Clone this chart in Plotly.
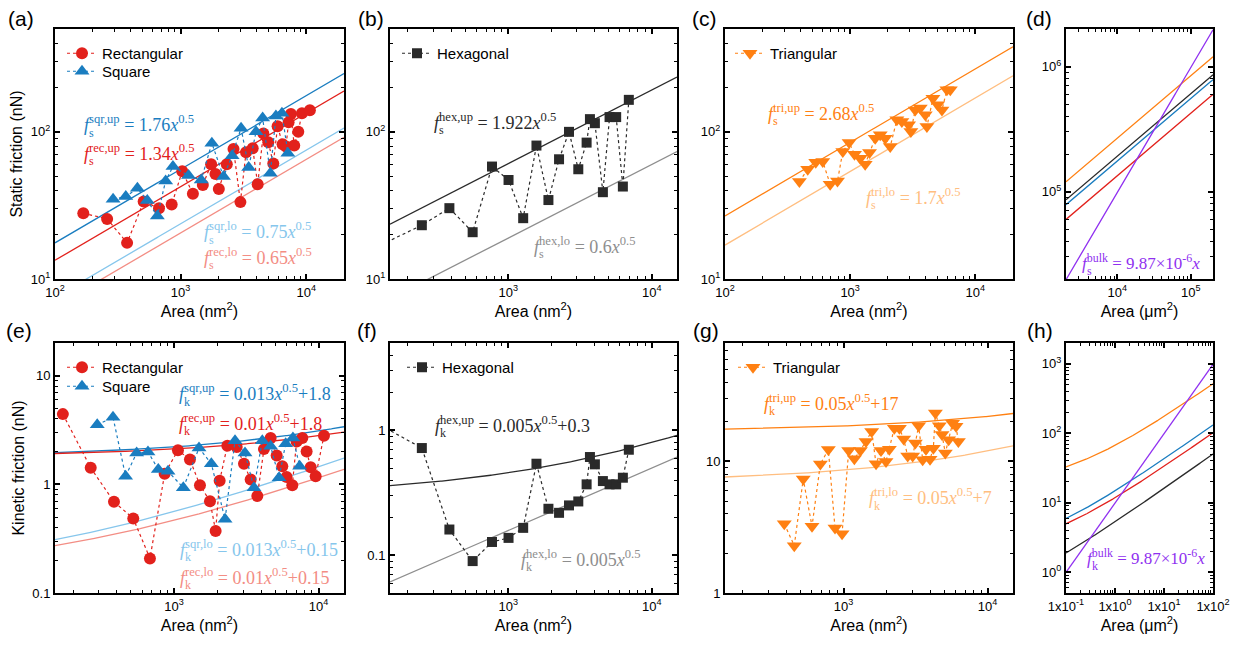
import numpy as np
import plotly.graph_objects as go

W, H = 1250, 645

# ---------------- data ----------------
# (a) static friction, rectangular and square
rec_area_s = [168, 260, 375, 508, 673, 849, 1031, 1253, 1503, 1750, 1895, 2015, 2333, 2637, 2994,
              3320, 3750, 4110, 4560, 4994, 5470, 5920, 6490, 6900, 7240, 7560, 8030, 8650, 9250, 10700]
rec_static = [28.0, 25.6, 17.6, 33.6, 30.3, 32.1, 54.0, 37.9, 43.5, 60.3, 51.8, 40.9, 60.3, 76.6, 33.3,
              72.8, 77.4, 44.0, 97.4, 85.1, 60.9, 109, 82.4, 79.4, 116, 132, 80.7, 100, 134, 140]
sqr_area_s = [290, 366, 453, 543, 653, 760, 869, 1157, 1459, 1774, 2195, 2571, 3030, 3485, 3985,
              4500, 5180, 5740, 6410, 7150]
sqr_static = [34.8, 36.3, 41.4, 34.1, 26.8, 46.4, 58.1, 50.5, 47.1, 83.7, 49.7, 68.7, 106, 57.2, 100,
              124, 52.4, 128, 134, 71.6]

# (b),(f) hexagonal
hex_area = [100, 250, 389, 565, 771, 1005, 1271, 1573, 1906, 2260, 2652, 3078, 3517, 3710, 4017,
            4567, 5083, 5653, 6293, 6925]
hex_static = [15.1, 23.2, 30.3, 20.8, 58.1, 47.1, 25.9, 80.7, 34.4, 65.1, 100, 55.7, 84.5, 122, 114.5,
              38.9, 126, 126, 42.5, 165]
hex_kinetic = [1.29, 0.722, 0.161, 0.090, 0.128, 0.138, 0.166, 0.541, 0.236, 0.219, 0.251, 0.270,
               0.370, 0.612, 0.535, 0.393, 0.370, 0.370, 0.418, 0.700]

# (c) triangular static
tri_area_s = [393, 458, 531, 604, 692, 792, 873, 981, 1083, 1203, 1318, 1428, 1585, 1738, 1905, 2090,
              2362, 2589, 2929, 3055, 3311, 3630, 3981, 4104, 4586, 5000, 5413, 5929, 6310]
tri_static = [45.9, 55.7, 62.2, 62.9, 44.1, 46.4, 73.5, 84.5, 70.5, 66.2, 60.3, 72.3, 90.6, 95.4, 90.6,
              79.4, 121, 117.5, 111.7, 100.5, 141, 145, 130.6, 108.6, 169, 153, 141, 193, 193]

# (e) kinetic friction, rectangular and square
rec_area_k = [170, 265, 384, 522, 681, 861, 1064, 1288, 1511, 1773, 1940, 2068, 2338, 2712, 3048,
              3390, 3770, 4190, 4660, 5130, 5610, 6010, 6580, 7050, 7720, 8270, 8820, 9550, 10900]
rec_kinetic = [4.43, 1.42, 0.69, 0.486, 0.208, 1.25, 2.06, 1.69, 0.98, 0.70, 0.372, 1.08, 2.27, 2.21,
               1.55, 1.11, 0.78, 2.11, 2.67, 1.84, 1.47, 1.17, 0.98, 2.48, 2.67, 2.01, 1.44, 1.19, 2.80]
sqr_area_k = [294, 378, 462, 551, 660, 778, 908, 1159, 1488, 1811, 2254, 2642, 3097, 3572, 4080,
              4660, 5330, 5920, 6650, 7400]
sqr_kinetic = [3.53, 4.15, 1.19, 1.94, 1.99, 1.37, 1.32, 0.93, 2.16, 1.55, 0.477, 2.52, 1.94, 0.93,
               2.52, 2.24, 1.15, 2.37, 2.67, 1.47]

# (g) triangular kinetic
tri_area_k = [387, 454, 524, 603, 689, 783, 871, 975, 1084, 1187, 1306, 1430, 1566, 1679, 1817, 1969,
              2077, 2250, 2438, 2612, 2785, 3015, 3146, 3318, 3537, 3730, 3980, 4198, 4335, 4616,
              4820, 5080, 5360, 5710, 6030, 6260]
tri_kinetic = [3.36, 2.29, 7.34, 3.21, 9.55, 12.3, 3.12, 2.82, 12.1, 10.5, 12.1, 14.2, 16.9, 9.6, 12.1,
               10.0, 12.4, 17.9, 17.9, 14.8, 11.0, 11.0, 13.8, 18.7, 10.3, 12.4, 10.4, 12.6, 23.3, 18.7,
               16.0, 11.6, 14.6, 19.5, 18.5, 14.2]

# fit coefficients:  f = coef * x^0.5 + offset
static_coef = {"sqr_up": 1.76, "rec_up": 1.34, "sqr_lo": 0.75, "rec_lo": 0.65,
               "hex_up": 1.922, "hex_lo": 0.6, "tri_up": 2.68, "tri_lo": 1.7}
kin_coef = {"sqr_up": 0.013, "rec_up": 0.01, "sqr_lo": 0.013, "rec_lo": 0.01,
            "hex_up": 0.005, "hex_lo": 0.005, "tri_up": 0.05, "tri_lo": 0.05}
kin_offset = {"sqr_up": 1.8, "rec_up": 1.8, "sqr_lo": 0.15, "rec_lo": 0.15,
              "hex_up": 0.3, "hex_lo": 0.0, "tri_up": 17, "tri_lo": 7}
bulk_coef = 9.87e-6
NM2_PER_UM2 = 1e6

# ---------------- style ----------------
RED = "#E2211C"
BLUE = "#1A7DC0"
LBLUE = "#86C6EC"
LRED = "#F38D84"
ORANGE = "#FF8012"
LORANGE = "#FFBE80"
PURPLE = "#9030F0"
DARK = "#2A2A2A"
GRAY = "#8E8E8E"
SANS = "Liberation Sans"
SERIF = "Liberation Serif"


def px_x(p):
    return p / W


def px_y(p):
    return 1 - p / H


XDOM = {1: (55, 344), 2: (390, 677), 3: (725, 1013), 4: (1066, 1213)}
YTOP = (29, 279)
YBOT = (343, 593)

fig = go.Figure()

# axis ranges (log10)
ranges = {
    1: ([2, np.log10(2e4)], [1, np.log10(500)]),
    2: ([np.log10(150), np.log10(15000)], [1, np.log10(500)]),
    3: ([2, np.log10(2e4)], [1, np.log10(500)]),
    4: ([np.log10(2e3), np.log10(2e5)], [np.log10(2e4), np.log10(2e6)]),
    5: ([np.log10(150), np.log10(15000)], [-1, np.log10(20)]),
    6: ([np.log10(150), np.log10(15000)], [np.log10(0.05), np.log10(5)]),
    7: ([np.log10(150), np.log10(15000)], [0, 1.9]),
    8: ([-1, 2], [np.log10(0.5), np.log10(2000)]),
}


def pw(v):
    return "10<sup>%d</sup>" % v


ticks = {
    1: ([100, 1000, 10000], [pw(2), pw(3), pw(4)], [10, 100], [pw(1), pw(2)]),
    2: ([1000, 10000], [pw(3), pw(4)], [10, 100], [pw(1), pw(2)]),
    3: ([100, 1000, 10000], [pw(2), pw(3), pw(4)], [10, 100], [pw(1), pw(2)]),
    4: ([1e4, 1e5], [pw(4), pw(5)], [1e5, 1e6], [pw(5), pw(6)]),
    5: ([1000, 10000], [pw(3), pw(4)], [0.1, 1, 10], ["0.1", "1", "10"]),
    6: ([1000, 10000], [pw(3), pw(4)], [0.1, 1], ["0.1", "1"]),
    7: ([1000, 10000], [pw(3), pw(4)], [1, 10], ["1", "10"]),
    8: ([0.1, 1, 10, 100], ["1x10<sup>-1</sup>", "1x10<sup>0</sup>", "1x10<sup>1</sup>", "1x10<sup>2</sup>"],
        [1, 10, 100, 1000], [pw(0), pw(1), pw(2), pw(3)]),
}


def minor_vals(rng):
    lo, hi = rng
    out = []
    for k in range(int(np.floor(lo)) - 1, int(np.ceil(hi)) + 1):
        for d in range(2, 10):
            v = d * 10.0 ** k
            if lo < np.log10(v) < hi:
                out.append(v)
    return out


xtitles = {1: "Area (nm<sup>2</sup>)", 2: "Area (nm<sup>2</sup>)", 3: "Area (nm<sup>2</sup>)",
           4: "Area (\u03bcm<sup>2</sup>)", 5: "Area (nm<sup>2</sup>)", 6: "Area (nm<sup>2</sup>)",
           7: "Area (nm<sup>2</sup>)", 8: "Area (\u03bcm<sup>2</sup>)"}
ytitles = {1: "Static friction (nN)", 5: "Kinetic friction (nN)"}

layout_axes = {}
for i in range(1, 9):
    col = (i - 1) % 4 + 1
    xd = XDOM[col]
    yd = YTOP if i <= 4 else YBOT
    xr, yr = ranges[i]
    xtv, xtt, ytv, ytt = ticks[i]
    common = dict(type="log", ticks="inside", ticklen=5, tickwidth=1.5, tickcolor="black",
                  showline=True, linewidth=2, linecolor="black", mirror="ticks",
                  showgrid=False, zeroline=False, tickmode="array", automargin=False,
                  tickfont=dict(family=SANS, size=13, color="black"))
    xname = "xaxis" if i == 1 else "xaxis%d" % i
    yname = "yaxis" if i == 1 else "yaxis%d" % i
    sfx = "" if i == 1 else str(i)
    layout_axes[xname] = dict(common, domain=[px_x(xd[0]), px_x(xd[1])], range=xr, anchor="y" + sfx,
                              tickvals=xtv, ticktext=xtt,
                              minor=dict(tickmode="array", tickvals=minor_vals(xr), ticks="inside",
                                         ticklen=3, tickwidth=1, tickcolor="black", showgrid=False),
                              title=dict(text=xtitles[i], font=dict(family=SANS, size=16, color="black"),
                                         standoff=7))
    ycfg = dict(common, domain=[px_y(yd[1]), px_y(yd[0])], range=yr, anchor="x" + sfx,
                tickvals=ytv, ticktext=ytt,
                minor=dict(tickmode="array", tickvals=minor_vals(yr), ticks="inside",
                           ticklen=3, tickwidth=1, tickcolor="black", showgrid=False))
    if i in ytitles:
        ycfg["title"] = dict(text=ytitles[i], font=dict(family=SANS, size=16, color="black"), standoff=4)
    layout_axes[yname] = ycfg


def axref(i):
    return ("x", "y") if i == 1 else ("x%d" % i, "y%d" % i)


def data_trace(i, x, y, name, color, symbol, size, legend):
    xa, ya = axref(i)
    fig.add_trace(go.Scatter(x=x, y=y, mode="lines+markers", name=name, xaxis=xa, yaxis=ya,
                             line=dict(color=color, width=1.2, dash="3px,3px"),
                             marker=dict(color=color, symbol=symbol, size=size, line=dict(width=0)),
                             legend=legend, showlegend=True))


def fit_trace(i, coef, offset, color, exponent=0.5, scale=1.0):
    xa, ya = axref(i)
    xr = ranges[i][0]
    xs = np.logspace(xr[0], xr[1], 300)
    ys = coef * (xs * scale) ** exponent + offset
    fig.add_trace(go.Scatter(x=xs, y=ys, mode="lines", xaxis=xa, yaxis=ya,
                             line=dict(color=color, width=1.3), showlegend=False, hoverinfo="skip"))


# (a)
fit_trace(1, static_coef["sqr_up"], 0, BLUE)
fit_trace(1, static_coef["rec_up"], 0, RED)
fit_trace(1, static_coef["sqr_lo"], 0, LBLUE)
fit_trace(1, static_coef["rec_lo"], 0, LRED)
data_trace(1, rec_area_s, rec_static, "Rectangular", RED, "circle", 12, "legend")
data_trace(1, sqr_area_s, sqr_static, "Square", BLUE, "triangle-up", 13, "legend7")
# (b)
fit_trace(2, static_coef["hex_up"], 0, DARK)
fit_trace(2, static_coef["hex_lo"], 0, GRAY)
data_trace(2, hex_area, hex_static, "Hexagonal", DARK, "square", 10, "legend2")
# (c)
fit_trace(3, static_coef["tri_up"], 0, ORANGE)
fit_trace(3, static_coef["tri_lo"], 0, LORANGE)
data_trace(3, tri_area_s, tri_static, "Triangular", ORANGE, "triangle-down", 13, "legend3")
# (d) extrapolation to micrometre scale
for key, colr in [("tri_up", ORANGE), ("hex_up", DARK), ("sqr_up", BLUE), ("rec_up", RED)]:
    fit_trace(4, static_coef[key], 0, colr, scale=NM2_PER_UM2)
fit_trace(4, bulk_coef, 0, PURPLE, exponent=1.0, scale=NM2_PER_UM2)
# (e)
fit_trace(5, kin_coef["sqr_up"], kin_offset["sqr_up"], BLUE)
fit_trace(5, kin_coef["rec_up"], kin_offset["rec_up"], RED)
fit_trace(5, kin_coef["sqr_lo"], kin_offset["sqr_lo"], LBLUE)
fit_trace(5, kin_coef["rec_lo"], kin_offset["rec_lo"], LRED)
data_trace(5, rec_area_k, rec_kinetic, "Rectangular", RED, "circle", 12, "legend4")
data_trace(5, sqr_area_k, sqr_kinetic, "Square", BLUE, "triangle-up", 13, "legend8")
# (f)
fit_trace(6, kin_coef["hex_up"], kin_offset["hex_up"], DARK)
fit_trace(6, kin_coef["hex_lo"], kin_offset["hex_lo"], GRAY)
data_trace(6, hex_area, hex_kinetic, "Hexagonal", DARK, "square", 10, "legend5")
# (g)
fit_trace(7, kin_coef["tri_up"], kin_offset["tri_up"], ORANGE)
fit_trace(7, kin_coef["tri_lo"], kin_offset["tri_lo"], LORANGE)
data_trace(7, tri_area_k, tri_kinetic, "Triangular", ORANGE, "triangle-down", 13, "legend6")
# (h)
for key, colr in [("tri_up", ORANGE), ("sqr_up", BLUE), ("rec_up", RED), ("hex_up", DARK)]:
    fit_trace(8, kin_coef[key], kin_offset[key], colr, scale=NM2_PER_UM2)
fit_trace(8, bulk_coef, 0, PURPLE, exponent=1.0, scale=NM2_PER_UM2)

# legends (one entry per legend box so rows can be spaced like the reference)
legend_pos = {"legend": (62, 37), "legend7": (62, 55), "legend2": (397, 37), "legend3": (730, 37),
              "legend4": (62, 351), "legend8": (62, 370), "legend5": (402, 351), "legend6": (733, 351)}
legends = {}
for name, (lx, ly) in legend_pos.items():
    legends[name] = dict(x=px_x(lx), y=px_y(ly), xanchor="left", yanchor="top",
                         bgcolor="rgba(0,0,0,0)", borderwidth=0, itemwidth=30, tracegroupgap=0,
                         font=dict(family=SANS, size=15, color="black"))

annotations = []


def formula(xp, yp, sub, sup, rhs, color, size=18):
    annotations.append(dict(x=px_x(xp), y=px_y(yp), xref="paper", yref="paper", xanchor="left",
                            yanchor="middle", showarrow=False,
                            text="<i>f</i><sup>%s</sup> = %s" % (sup, rhs),
                            font=dict(family=SERIF, size=size, color=color)))
    annotations.append(dict(x=px_x(xp), y=px_y(yp), xref="paper", yref="paper", xanchor="left",
                            yanchor="middle", showarrow=False, xshift=5, yshift=-9,
                            text=sub, font=dict(family=SERIF, size=12, color=color)))


def pw_rhs(c):
    return "%g<i>x</i><sup>0.5</sup>" % c


def pw_rhs_off(c, o):
    return "%g<i>x</i><sup>0.5</sup>+%g" % (c, o)


formula(82, 124, "s", "sqr,up", pw_rhs(static_coef["sqr_up"]), BLUE)
formula(82, 152, "s", "rec,up", pw_rhs(static_coef["rec_up"]), RED)
formula(202, 231, "s", "sqr,lo", pw_rhs(static_coef["sqr_lo"]), LBLUE)
formula(202, 256, "s", "rec,lo", pw_rhs(static_coef["rec_lo"]), LRED)
formula(432, 121, "s", "hex,up", pw_rhs(static_coef["hex_up"]), DARK)
formula(532, 245, "s", "hex,lo", pw_rhs(static_coef["hex_lo"]), GRAY)
formula(766, 112, "s", "tri,up", pw_rhs(static_coef["tri_up"]), ORANGE)
formula(864, 196, "s", "tri,lo", pw_rhs(static_coef["tri_lo"]), LORANGE)
formula(1080, 262, "s", "bulk", "9.87\u00d710<sup>-6</sup><i>x</i>", PURPLE, size=17)
formula(177, 393, "k", "sqr,up", pw_rhs_off(kin_coef["sqr_up"], kin_offset["sqr_up"]), BLUE)
formula(177, 422, "k", "rec,up", pw_rhs_off(kin_coef["rec_up"], kin_offset["rec_up"]), RED)
formula(178, 548, "k", "sqr,lo", pw_rhs_off(kin_coef["sqr_lo"], kin_offset["sqr_lo"]), LBLUE)
formula(178, 576, "k", "rec,lo", pw_rhs_off(kin_coef["rec_lo"], kin_offset["rec_lo"]), LRED)
formula(433, 424, "k", "hex,up", pw_rhs_off(kin_coef["hex_up"], kin_offset["hex_up"]), DARK)
formula(519, 558, "k", "hex,lo", pw_rhs(kin_coef["hex_lo"]), GRAY)
formula(762, 402, "k", "tri,up", pw_rhs_off(kin_coef["tri_up"], kin_offset["tri_up"]), ORANGE)
formula(867, 497, "k", "tri,lo", pw_rhs_off(kin_coef["tri_lo"], kin_offset["tri_lo"]), LORANGE)
formula(1085, 557, "k", "bulk", "9.87\u00d710<sup>-6</sup><i>x</i>", PURPLE, size=17)

panel_labels = [("(a)", 21, 18), ("(b)", 371, 18), ("(c)", 705, 18), ("(d)", 1039, 18),
                ("(e)", 19, 330), ("(f)", 367, 330), ("(g)", 706, 330), ("(h)", 1040, 330)]
for t, xp, yp in panel_labels:
    annotations.append(dict(x=px_x(xp), y=px_y(yp), xref="paper", yref="paper", xanchor="center",
                            yanchor="middle", showarrow=False, text=t,
                            font=dict(family=SANS, size=21, color="black")))

fig.update_layout(width=W, height=H, margin=dict(l=0, r=0, t=0, b=0),
                  paper_bgcolor="white", plot_bgcolor="white",
                  annotations=annotations, **layout_axes, **legends)

fig.write_html("out.html")
